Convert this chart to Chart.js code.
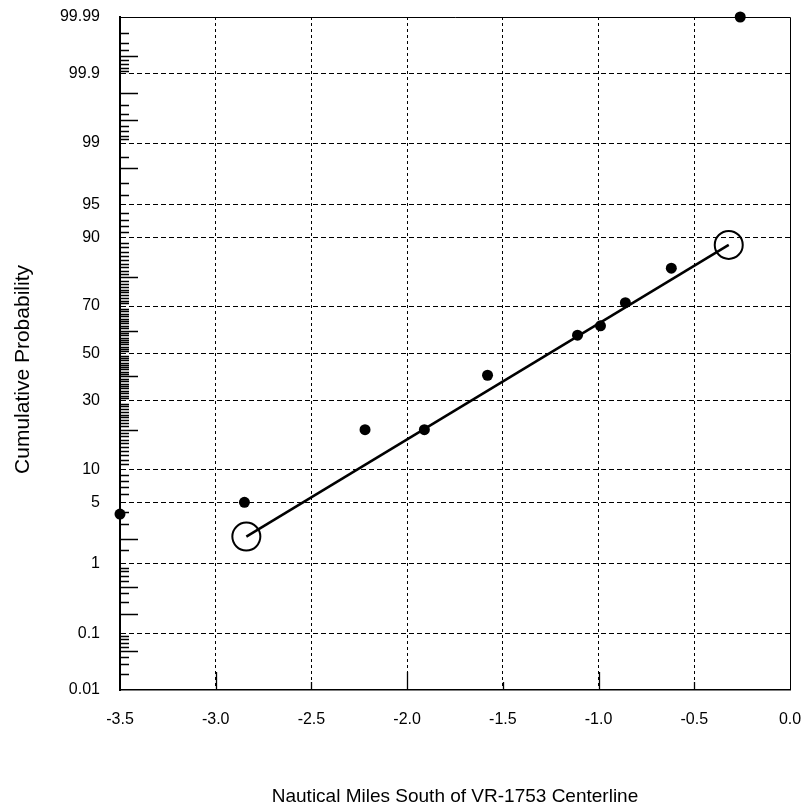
<!DOCTYPE html>
<html><head><meta charset="utf-8">
<script src="https://cdn.jsdelivr.net/npm/chart.js@4.4.1/dist/chart.umd.min.js"></script>
<style>html,body{margin:0;padding:0;background:#fff;}canvas{display:block;}</style>
</head><body>
<canvas id="c" width="807" height="809"></canvas>
<script>
// ---- data ----
const obsMiles = [-3.5, -2.85, -2.22, -1.91, -1.58, -1.11, -0.99, -0.86, -0.62, -0.26];
const obsProb  = [3.8, 5, 20, 20, 40.5, 58, 62, 71.3, 82.7, 99.99];
const fitMiles = [-2.84, -0.32];
const fitProb  = [2.15, 88.5];

const xTickValues = [-3.5, -3.0, -2.5, -2.0, -1.5, -1.0, -0.5, 0.0];
const yTickValues = [0.01, 0.1, 1, 5, 10, 30, 50, 70, 90, 95, 99, 99.9, 99.99];
const yTickLabels = ['0.01','0.1','1','5','10','30','50','70','90','95','99','99.9','99.99'];
const yMinorShort = [0.02,0.03,0.04,0.06,0.07,0.08,0.09,
  0.3,0.4,0.6,0.7,0.8,0.9, 1.5,3,4, 6,7,8,9,
  11,12,13,14,15,16,17,18,19, 21,22,23,24,25,26,27,28,29,
  31,32,33,34,35,36,37,38,39, 41,42,43,44,45,46,47,48,49,
  51,52,53,54,55,56,57,58,59, 61,62,63,64,65,66,67,68,69,
  71,72,73,74,75,76,77,78,79, 81,82,83,84,85,86,87,88,89,
  91,92,93,94, 96,97,98.5, 99.1,99.2,99.3,99.4,99.6,99.7,
  99.91,99.92,99.93,99.94,99.96,99.97,99.98];
const yMinorLong = [0.05,0.2,0.5,2,20,40,60,80,98,99.5,99.8,99.95];
const xInnerLong = [-3.0,-2.0,-1.0];
const xInnerShort = [-2.5,-1.5,-0.5];
const xTitle = 'Nautical Miles South of VR-1753 Centerline';
const yTitle = 'Cumulative Probability';

// ---- normal probability (probit) axis ----
function probit(p){
  const a=[-3.969683028665376e+01,2.209460984245205e+02,-2.759285104469687e+02,1.383577518672690e+02,-3.066479806614716e+01,2.506628277459239e+00];
  const b=[-5.447609879822406e+01,1.615858368580409e+02,-1.556989798598866e+02,6.680131188771972e+01,-1.328068155288572e+01];
  const c=[-7.784894002430293e-03,-3.223964580411365e-01,-2.400758277161838e+00,-2.549671348283946e+00,4.374664141464968e+00,2.938163982698783e+00];
  const d=[7.784695709041462e-03,3.224671290700398e-01,2.445134137142996e+00,3.754408661907416e+00];
  const pl=0.02425, ph=1-pl; let q,r;
  if(p<pl){q=Math.sqrt(-2*Math.log(p));return (((((c[0]*q+c[1])*q+c[2])*q+c[3])*q+c[4])*q+c[5])/((((d[0]*q+d[1])*q+d[2])*q+d[3])*q+1);}
  if(p>ph){q=Math.sqrt(-2*Math.log(1-p));return -(((((c[0]*q+c[1])*q+c[2])*q+c[3])*q+c[4])*q+c[5])/((((d[0]*q+d[1])*q+d[2])*q+d[3])*q+1);}
  q=p-0.5;r=q*q;return (((((a[0]*r+a[1])*r+a[2])*r+a[3])*r+a[4])*r+a[5])*q/(((((b[0]*r+b[1])*r+b[2])*r+b[3])*r+b[4])*r+1);
}
function normcdf(z){
  const t=1/(1+0.2316419*Math.abs(z));
  const y=t*(0.319381530+t*(-0.356563782+t*(1.781477937+t*(-1.821255978+t*1.330274429))));
  const v=1-Math.exp(-z*z/2)/Math.sqrt(2*Math.PI)*y;
  return z>=0?v:1-v;
}
class ProbitScale extends Chart.LinearScale {
  determineDataLimits(){ this.min = yTickValues[0]; this.max = yTickValues[yTickValues.length-1]; }
  buildTicks(){ return yTickValues.map(v => ({value: v})); }
  getPixelForValue(v){
    const z0 = probit(this.min/100), z1 = probit(this.max/100);
    return this.getPixelForDecimal((probit(v/100) - z0) / (z1 - z0));
  }
  getValueForPixel(px){
    const z0 = probit(this.min/100), z1 = probit(this.max/100);
    return 100 * normcdf(z0 + (z1 - z0) * this.getDecimalForPixel(px));
  }
}
ProbitScale.id = 'probit';
ProbitScale.defaults = {};
Chart.register(ProbitScale);

const FONT = "'Liberation Sans', Arial, sans-serif";

const framePlugin = {
  id: 'frameTicks',
  beforeDatasetsDraw(chart){
    const {ctx, chartArea: a, scales: {x, y}} = chart;
    ctx.save();
    ctx.strokeStyle = '#000';
    ctx.lineWidth = 1;
    ctx.beginPath();
    ctx.moveTo(a.left, a.top + 0.5); ctx.lineTo(a.right + 0.5, a.top + 0.5); ctx.lineTo(a.right + 0.5, a.bottom);
    ctx.stroke();
    ctx.lineWidth = 1.3;
    ctx.beginPath();
    yMinorShort.forEach(v => { const py = Math.round(y.getPixelForValue(v)) + 0.5; ctx.moveTo(a.left, py); ctx.lineTo(a.left + 9, py); });
    yMinorLong.forEach(v => { const py = Math.round(y.getPixelForValue(v)) + 0.5; ctx.moveTo(a.left, py); ctx.lineTo(a.left + 18, py); });
    xInnerLong.forEach(v => { const px = Math.round(x.getPixelForValue(v)) + 0.5; ctx.moveTo(px, a.bottom); ctx.lineTo(px, a.bottom - 18); });
    xInnerShort.forEach(v => { const px = Math.round(x.getPixelForValue(v)) + 0.5; ctx.moveTo(px, a.bottom); ctx.lineTo(px, a.bottom - 8); });
    ctx.stroke();
    ctx.restore();
  },
  afterDraw(chart){
    const {ctx, chartArea: a} = chart;
    ctx.save();
    ctx.fillStyle = '#000';
    ctx.font = "21px " + FONT;
    ctx.textAlign = 'center';
    ctx.textBaseline = 'middle';
    ctx.translate(23, (a.top + a.bottom) / 2 + 16);
    ctx.rotate(-Math.PI / 2);
    ctx.fillText(yTitle, 0, 0);
    ctx.restore();
  }
};

new Chart(document.getElementById('c'), {
  type: 'scatter',
  data: {
    datasets: [
      {
        label: 'observed',
        data: obsMiles.map((m, i) => ({x: m, y: obsProb[i]})),
        showLine: false,
        pointRadius: 5.5,
        pointBackgroundColor: '#000',
        pointBorderWidth: 0,
        clip: false
      },
      {
        label: 'fit',
        data: fitMiles.map((m, i) => ({x: m, y: fitProb[i]})),
        showLine: true,
        borderColor: '#000',
        borderWidth: 2.5,
        pointRadius: 14,
        pointBorderWidth: 2,
        pointBorderColor: '#000',
        pointBackgroundColor: 'rgba(0,0,0,0)',
        clip: false
      }
    ]
  },
  options: {
    responsive: false,
    animation: false,
    devicePixelRatio: 1,
    layout: {padding: {left: 0, right: 17, top: 17, bottom: 0}},
    plugins: {legend: {display: false}, tooltip: {enabled: false}},
    scales: {
      x: {
        type: 'linear',
        min: xTickValues[0], max: xTickValues[xTickValues.length - 1],
        afterBuildTicks: s => { s.ticks = xTickValues.map(v => ({value: v})); },
        afterFit: s => { s.height = 119; s.paddingLeft = 0; s.paddingRight = 0; },
        ticks: {autoSkip: false, maxRotation: 0, padding: 20, color: '#000',
                font: {family: FONT, size: 16},
                callback: v => Number(v).toFixed(1)},
        grid: {drawTicks: false, lineWidth: 1,
               color: c => (c.tick && (c.tick.value === xTickValues[0] || c.tick.value === xTickValues[xTickValues.length-1])) ? 'rgba(0,0,0,0)' : '#000'},
        border: {display: true, color: '#000', width: 1.5, dash: [3, 3]},
        title: {display: true, text: xTitle, color: '#000',
                font: {family: FONT, size: 19}, padding: {top: 0, bottom: 1}}
      },
      y: {
        type: 'probit',
        afterFit: s => { s.width = 120; s.paddingTop = 0; s.paddingBottom = 0; },
        ticks: {autoSkip: false, padding: 20, color: '#000',
                font: {family: FONT, size: 16},
                callback: (v, i) => yTickLabels[i]},
        grid: {drawTicks: false, lineWidth: 1,
               color: c => (c.tick && (c.tick.value === yTickValues[0] || c.tick.value === yTickValues[yTickValues.length-1])) ? 'rgba(0,0,0,0)' : '#000'},
        border: {display: true, color: '#000', width: 2, dash: [5, 3]},
        title: {display: false}
      }
    }
  },
  plugins: [framePlugin]
});
</script>
</body></html>
